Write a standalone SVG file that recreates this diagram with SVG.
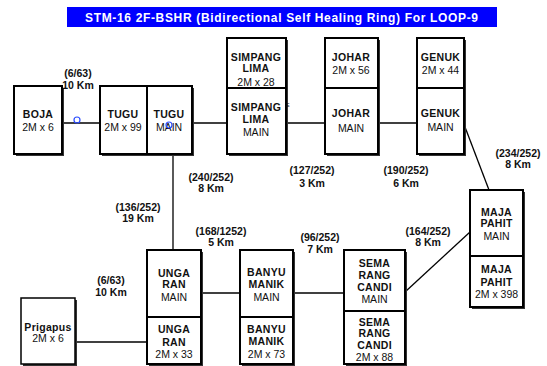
<svg xmlns="http://www.w3.org/2000/svg" width="547" height="366" viewBox="0 0 547 366">
<style>
.box{fill:#fff;stroke:#000;stroke-width:2}
.sh{fill:#333}
.ln{stroke:#000;stroke-width:1.3;fill:none}
text{font-family:"Liberation Sans",Arial,sans-serif;font-size:10.5px;text-anchor:middle;fill:#111}
.b{font-weight:bold;letter-spacing:0.3px}
.lbl{font-weight:bold;fill:#111}
.dot{fill:none;stroke:#2a4cff;stroke-width:1.2}
</style>
<rect width="547" height="366" fill="#fff"/>
<g id="title">
<rect x="67" y="7" width="430" height="20" fill="#0000ff"/>
<text x="281.5" y="22" style="font-size:12px;font-weight:bold;fill:#fff" textLength="393" lengthAdjust="spacing">STM-16  2F-BSHR (Bidirectional Self Healing Ring) For LOOP-9</text>
</g>
<g id="connectors">
<line class="ln" x1="54" y1="123" x2="100" y2="123"/>
<line class="ln" x1="192" y1="123" x2="227" y2="123"/>
<line class="ln" x1="286" y1="123" x2="325" y2="123"/>
<line class="ln" x1="378" y1="123" x2="417" y2="123"/>
<line class="ln" x1="465" y1="127" x2="489" y2="190"/>
<line class="ln" x1="173" y1="154" x2="173" y2="258"/>
<line class="ln" x1="201" y1="293" x2="240" y2="293"/>
<line class="ln" x1="293" y1="293" x2="344" y2="293"/>
<line class="ln" x1="405" y1="292" x2="470" y2="232"/>
<line class="ln" x1="75" y1="342" x2="147" y2="342"/>
</g>
<g id="boja">
<rect class="sh" x="16" y="88" width="48" height="68"/>
<rect class="box" x="14" y="86" width="48" height="68"/>
<text x="38" y="118" class="b">BOJA</text>
<text x="38" y="131">2M x 6</text>
</g>
<g id="tugu">
<rect class="sh" x="102" y="88" width="92" height="68"/>
<rect class="box" x="100" y="86" width="47" height="68"/>
<rect class="box" x="147" y="86" width="45" height="68"/>
<text x="123" y="118" class="b">TUGU</text>
<text x="123" y="131">2M x 99</text>
<text x="169" y="118" class="b">TUGU</text>
<text x="169" y="131">MAIN</text>
</g>
<g id="simpang-lima">
<rect class="sh" x="229" y="40" width="59" height="116"/>
<rect class="box" x="227" y="38" width="59" height="50"/>
<rect class="box" x="227" y="88" width="59" height="66"/>
<text x="256" y="61" class="b">SIMPANG</text>
<text x="256" y="72" class="b">LIMA</text>
<text x="256" y="86">2M  x  28</text>
<text x="256" y="111" class="b">SIMPANG</text>
<text x="256" y="123" class="b">LIMA</text>
<text x="256" y="136">MAIN</text>
<text x="288" y="107" style="font-size:5px">E</text>
</g>
<g id="johar">
<rect class="sh" x="327" y="40" width="53" height="116"/>
<rect class="box" x="325" y="38" width="53" height="50"/>
<rect class="box" x="325" y="88" width="53" height="66"/>
<text x="351" y="61" class="b">JOHAR</text>
<text x="351" y="74">2M x 56</text>
<text x="351" y="117" class="b">JOHAR</text>
<text x="351" y="132">MAIN</text>
</g>
<g id="genuk">
<rect class="sh" x="419" y="40" width="47" height="116"/>
<rect class="box" x="417" y="38" width="47" height="50"/>
<rect class="box" x="417" y="88" width="47" height="66"/>
<text x="440.5" y="61" class="b">GENUK</text>
<text x="440.5" y="74">2M x 44</text>
<text x="440.5" y="117" class="b">GENUK</text>
<text x="440.5" y="131">MAIN</text>
</g>
<g id="maja-pahit">
<rect class="sh" x="472" y="192" width="53" height="117"/>
<rect class="box" x="470" y="190" width="53" height="66"/>
<rect class="box" x="470" y="256" width="53" height="51"/>
<text x="496.5" y="216" class="b">MAJA</text>
<text x="496.5" y="227" class="b">PAHIT</text>
<text x="496.5" y="240">MAIN</text>
<text x="496.5" y="273" class="b">MAJA</text>
<text x="496.5" y="286" class="b">PAHIT</text>
<text x="496.5" y="298">2M x 398</text>
</g>
<g id="sema-rang-candi">
<rect class="sh" x="346" y="252" width="61" height="114"/>
<rect class="box" x="344" y="250" width="61" height="61"/>
<rect class="box" x="344" y="311" width="61" height="53"/>
<text x="374.5" y="267" class="b">SEMA</text>
<text x="374.5" y="279" class="b">RANG</text>
<text x="374.5" y="291" class="b">CANDI</text>
<text x="374.5" y="303">MAIN</text>
<text x="374.5" y="326" class="b">SEMA</text>
<text x="374.5" y="337" class="b">RANG</text>
<text x="374.5" y="349" class="b">CANDI</text>
<text x="374.5" y="361">2M x 88</text>
</g>
<g id="banyu-manik">
<rect class="sh" x="242" y="252" width="53" height="114"/>
<rect class="box" x="240" y="250" width="53" height="67"/>
<rect class="box" x="240" y="317" width="53" height="47"/>
<text x="266.5" y="276" class="b">BANYU</text>
<text x="266.5" y="288" class="b">MANIK</text>
<text x="266.5" y="301">MAIN</text>
<text x="266.5" y="333" class="b">BANYU</text>
<text x="266.5" y="345" class="b">MANIK</text>
<text x="266.5" y="358">2M x 73</text>
</g>
<g id="unga-ran">
<rect class="sh" x="149" y="252" width="54" height="114"/>
<rect class="box" x="147" y="250" width="54" height="67"/>
<rect class="box" x="147" y="317" width="54" height="47"/>
<text x="174" y="277" class="b">UNGA</text>
<text x="174" y="288" class="b">RAN</text>
<text x="174" y="301">MAIN</text>
<text x="174" y="333" class="b">UNGA</text>
<text x="174" y="346" class="b">RAN</text>
<text x="174" y="358">2M x 33</text>
</g>
<g id="prigapus">
<rect class="sh" x="23" y="300" width="54" height="66"/>
<rect class="box" x="21" y="298" width="54" height="66" style="stroke-width:1.5"/>
<text x="48" y="331" class="b">Prigapus</text>
<text x="48" y="342">2M x 6</text>
</g>
<g id="markers">
<circle class="dot" cx="77" cy="120" r="3"/>
<circle class="dot" cx="169" cy="125" r="3"/>
</g>
<g id="labels">
<text class="lbl" x="78" y="77">(6/63)</text>
<text class="lbl" x="78" y="89">10 Km</text>
<text class="lbl" x="211" y="181">(240/252)</text>
<text class="lbl" x="211" y="192">8 Km</text>
<text class="lbl" x="138" y="211">(136/252)</text>
<text class="lbl" x="138" y="222">19 Km</text>
<text class="lbl" x="221" y="235">(168/1252)</text>
<text class="lbl" x="221" y="246">5 Km</text>
<text class="lbl" x="111" y="284">(6/63)</text>
<text class="lbl" x="111" y="296">10 Km</text>
<text class="lbl" x="320" y="241">(96/252)</text>
<text class="lbl" x="320" y="253">7 Km</text>
<text class="lbl" x="428" y="235">(164/252)</text>
<text class="lbl" x="428" y="246">8 Km</text>
<text class="lbl" x="312" y="174">(127/252)</text>
<text class="lbl" x="312" y="187">3 Km</text>
<text class="lbl" x="406" y="174">(190/252)</text>
<text class="lbl" x="406" y="187">6 Km</text>
<text class="lbl" x="518" y="157">(234/252)</text>
<text class="lbl" x="518" y="168">8 Km</text>
</g>
</svg>
